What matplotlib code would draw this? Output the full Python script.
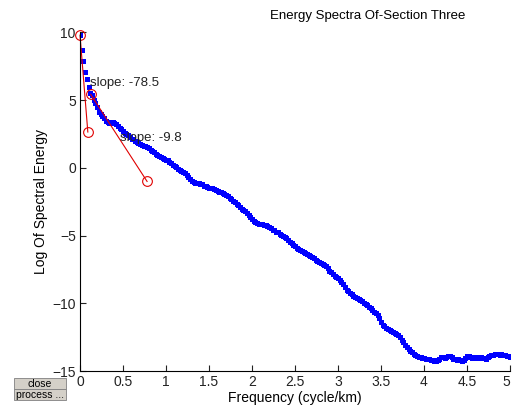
import numpy as np
import matplotlib
matplotlib.use("Agg")
import matplotlib.pyplot as plt
from matplotlib.patches import Rectangle

# Log spectral energy, sampled every 0.02 cycle/km from 0 to 5
freq_step = 0.02
energy = [
    9.80, 8.70, 7.90, 7.10, 6.55, 5.95, 5.55, 5.40, 5.05, 4.80,
    4.50, 4.15, 4.00, 3.85, 3.65, 3.50, 3.40, 3.30, 3.35, 3.40,
    3.35, 3.25, 3.10, 2.95, 2.85, 2.70, 2.60, 2.50, 2.40, 2.30,
    2.15, 2.10, 2.00, 1.90, 1.85, 1.75, 1.70, 1.65, 1.60, 1.55,
    1.45, 1.35, 1.25, 1.15, 1.05, 0.95, 0.85, 0.80, 0.75, 0.65,
    0.60, 0.55, 0.45, 0.35, 0.22, 0.15, 0.05, -0.05, -0.15, -0.25,
    -0.30, -0.40, -0.52, -0.65, -0.80, -0.95, -1.05, -1.10, -1.12, -1.15,
    -1.20, -1.22, -1.30, -1.35, -1.38, -1.45, -1.50, -1.52, -1.58, -1.62,
    -1.68, -1.75, -1.80, -1.85, -1.92, -2.00, -2.10, -2.20, -2.32, -2.45,
    -2.55, -2.65, -2.75, -2.88, -3.00, -3.10, -3.20, -3.32, -3.50, -3.65,
    -3.80, -3.95, -4.02, -4.08, -4.12, -4.15, -4.18, -4.22, -4.25, -4.32,
    -4.38, -4.45, -4.55, -4.62, -4.70, -4.75, -4.85, -4.92, -5.00, -5.10,
    -5.20, -5.32, -5.45, -5.55, -5.68, -5.80, -5.92, -6.00, -6.08, -6.15,
    -6.22, -6.28, -6.35, -6.42, -6.50, -6.58, -6.68, -6.78, -6.85, -6.95,
    -7.02, -7.10, -7.18, -7.25, -7.40, -7.58, -7.72, -7.85, -7.95, -8.05,
    -8.15, -8.28, -8.42, -8.60, -8.80, -9.00, -9.12, -9.25, -9.35, -9.45,
    -9.52, -9.60, -9.68, -9.78, -9.85, -9.95, -10.05, -10.15, -10.25, -10.38,
    -10.50, -10.62, -10.75, -10.90, -11.10, -11.35, -11.58, -11.70, -11.80, -11.90,
    -11.97, -12.05, -12.10, -12.18, -12.25, -12.35, -12.50, -12.70, -12.88, -13.05,
    -13.22, -13.38, -13.50, -13.62, -13.72, -13.80, -13.88, -13.95, -14.00, -14.02,
    -14.05, -14.08, -14.10, -14.15, -14.20, -14.22, -14.25, -14.25, -14.22, -14.12,
    -14.00, -13.98, -14.05, -13.95, -13.92, -13.90, -14.00, -14.08, -14.15, -14.20,
    -14.10, -14.18, -14.25, -14.22, -14.05, -13.92, -13.90, -13.98, -14.05, -14.00,
    -14.02, -14.05, -13.95, -14.00, -14.05, -14.05, -14.08, -13.98, -13.90, -13.82,
    -13.85, -13.78, -13.72, -13.75, -13.80, -13.78, -13.85, -13.80, -13.88, -13.92,
    -13.97,
]
freq = np.arange(len(energy)) * freq_step

# slope fit lines (start/end points) and their labels
fit1_x = [0.0, 0.091]
fit1_y = [9.8, 2.65]
fit2_x = [0.124, 0.78]
fit2_y = [5.43, -1.0]
slope_labels = ["slope: -78.5", "slope: -9.8"]
label_pos = [(0.116, 6.25), (0.465, 2.23)]

plt.rcParams['font.family'] = ['Liberation Sans', 'DejaVu Sans']

fig = plt.figure(figsize=(5.12, 4.11), dpi=100)
ax = fig.add_axes([80 / 512, 40 / 411, 430 / 512, 338.5 / 411])

ax.plot(freq, energy, linestyle='none', marker='s', markersize=3.6,
        color='#0000ff', markeredgewidth=0)
for fx, fy in [(fit1_x, fit1_y), (fit2_x, fit2_y)]:
    ax.plot(fx, fy, color='#e00000', linewidth=0.8, marker='o',
            markersize=7, markerfacecolor='none', markeredgewidth=0.8,
            clip_on=False)
for txt, (tx, ty) in zip(slope_labels, label_pos):
    ax.text(tx, ty, txt, fontsize=9.5, va='center', ha='left', color='#222222')

ax.set_xlim(0, 5)
ax.set_ylim(-15, 10)
ax.set_xticks(np.arange(0, 5.01, 0.5))
ax.set_xticklabels(['0', '0.5', '1', '1.5', '2', '2.5', '3', '3.5', '4', '4.5', '5'])
ax.get_xticklabels()[-1].set_horizontalalignment('right')
ax.set_yticks([-15, -10, -5, 0, 5, 10])
ax.tick_params(direction='in', length=4, labelsize=10, colors='#222222', pad=3)
ax.spines['top'].set_visible(False)
ax.spines['right'].set_visible(False)
ax.set_xlabel('Frequency (cycle/km)', fontsize=10, labelpad=1)
ax.set_ylabel('Log Of Spectral Energy', fontsize=10, labelpad=3)

fig.text(368 / 512, 1 - 16 / 411, 'Energy Spectra Of-Section Three',
         ha='center', va='center', fontsize=9.5)

# two small gray buttons in the bottom-left corner
for i, name in enumerate(['close', 'process ...']):
    y0 = 1 - (389 + i * 11) / 411
    fig.patches.append(Rectangle((14 / 512, y0), 52 / 512, 11 / 411,
                                 transform=fig.transFigure, facecolor='#d4d0c8',
                                 edgecolor='#808080', linewidth=0.6))
    fig.text(40 / 512, y0 + 5.5 / 411, name, ha='center', va='center', fontsize=7.5)

fig.savefig('out.png', dpi=100)
